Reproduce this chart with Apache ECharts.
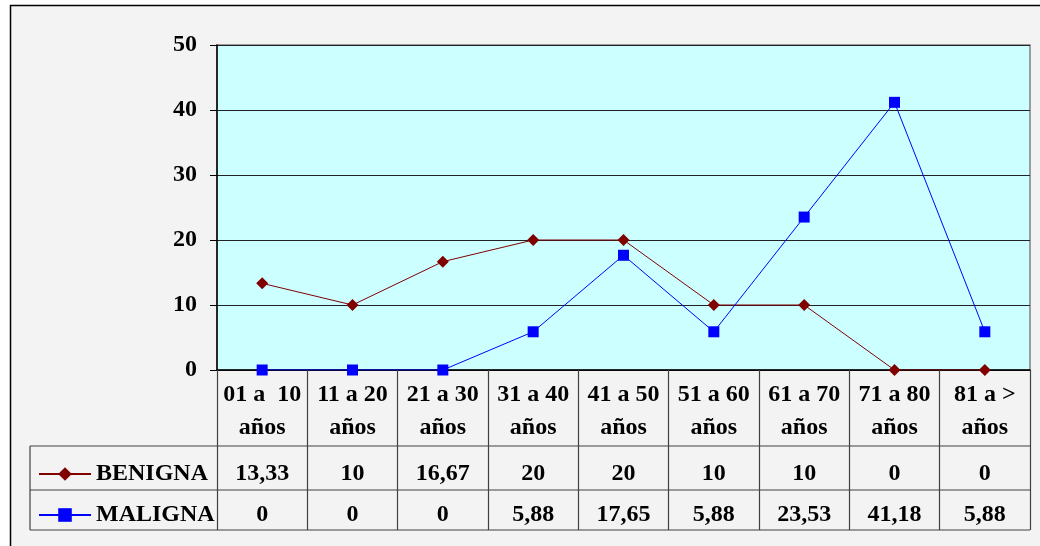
<!DOCTYPE html>
<html>
<head>
<meta charset="utf-8">
<script src="https://cdn.jsdelivr.net/npm/echarts@6/dist/echarts.min.js"></script>
<style>
  html, body { margin: 0; padding: 0; background: #ffffff; }
  #chart { width: 1040px; height: 546px; }
</style>
</head>
<body>
<div id="chart"></div>
<script>
// Age ranges (two-line labels) and percentages per tumour type
const categories = ['01 a  10\naños', '11 a 20\naños', '21 a 30\naños', '31 a 40\naños', '41 a 50\naños',
                    '51 a 60\naños', '61 a 70\naños', '71 a 80\naños', '81 a >\naños'];
const benigna = [13.33, 10, 16.67, 20, 20, 10, 10, 0, 0];
const maligna = [0, 0, 0, 5.88, 17.65, 5.88, 23.53, 41.18, 5.88];
const yTicks = [0, 10, 20, 30, 40, 50];

const FONT = '"Liberation Serif", "Times New Roman", serif';
const fmt = v => String(Math.round(v * 100) / 100).replace('.', ',');

const chart = echarts.init(document.getElementById('chart'), null, { renderer: 'canvas' });

// Value rows of the data table, drawn as extra category axes under the plot
const tableAxis = (values, offset) => ({
  type: 'category',
  gridIndex: 0,
  position: 'bottom',
  offset: offset,
  data: categories,
  axisLine: { show: false },
  axisTick: { show: false },
  axisLabel: {
    margin: 10,
    interval: 0,
    fontFamily: FONT, fontWeight: 'bold', fontSize: 24, color: '#000',
    lineHeight: 24, verticalAlign: 'top',
    formatter: (v, i) => fmt(values[i])
  }
});

const tableLine = (x1, y1, x2, y2) => ({
  type: 'line', z: 10, silent: true,
  shape: { x1, y1, x2, y2 },
  style: { stroke: '#404040', lineWidth: 1.2 }
});

chart.setOption({
  backgroundColor: '#ffffff',
  animation: false,
  graphic: [
    { type: 'rect', z: -10, silent: true,
      shape: { x: 10.5, y: 5.5, width: 1040, height: 550 },
      style: { fill: '#f3f3f3', stroke: '#000', lineWidth: 1.5 } },
    tableLine(30, 446, 1030, 446),
    tableLine(30, 490, 1030, 490),
    tableLine(30, 530, 1030, 530),
    tableLine(30, 446, 30, 530)
  ],
  legend: {
    orient: 'vertical',
    left: 38, top: 462, padding: 0,
    itemWidth: 52, itemHeight: 17, itemGap: 17,
    textStyle: { fontFamily: FONT, fontWeight: 'bold', fontSize: 24, color: '#000', lineHeight: 24 },
    data: ['BENIGNA', 'MALIGNA']
  },
  grid: {
    left: 217, right: 10, top: 45, bottom: 176,
    show: true, backgroundColor: '#ccffff', borderColor: '#808080', borderWidth: 1.5
  },
  xAxis: [
    {
      type: 'category',
      data: categories,
      boundaryGap: true,
      axisLine: { lineStyle: { color: '#000', width: 1.5 } },
      axisTick: { show: true, length: 160, lineStyle: { color: '#404040', width: 1.2 } },
      axisLabel: {
        interval: 0, margin: 8,
        fontFamily: FONT, fontWeight: 'bold', fontSize: 24, color: '#000', lineHeight: 33
      }
    },
    tableAxis(benigna, 82),
    tableAxis(maligna, 123)
  ],
  yAxis: {
    type: 'value',
    min: yTicks[0], max: yTicks[yTicks.length - 1], interval: 10,
    axisLine: { show: true, lineStyle: { color: '#000', width: 1.5 } },
    axisTick: { show: true, length: 7, lineStyle: { color: '#000' } },
    axisLabel: { margin: 20, fontFamily: FONT, fontWeight: 'bold', fontSize: 24, color: '#000' },
    splitLine: { show: true, lineStyle: { color: '#222', width: 1.2 } }
  },
  series: [
    {
      name: 'BENIGNA', type: 'line', xAxisIndex: 0,
      data: benigna,
      symbol: 'diamond', symbolSize: 12,
      lineStyle: { color: '#800000', width: 1 },
      itemStyle: { color: '#800000' }
    },
    {
      name: 'MALIGNA', type: 'line', xAxisIndex: 0,
      data: maligna,
      symbol: 'rect', symbolSize: 11,
      lineStyle: { color: '#0000ff', width: 1 },
      itemStyle: { color: '#0000ff' }
    }
  ]
});
</script>
</body>
</html>
